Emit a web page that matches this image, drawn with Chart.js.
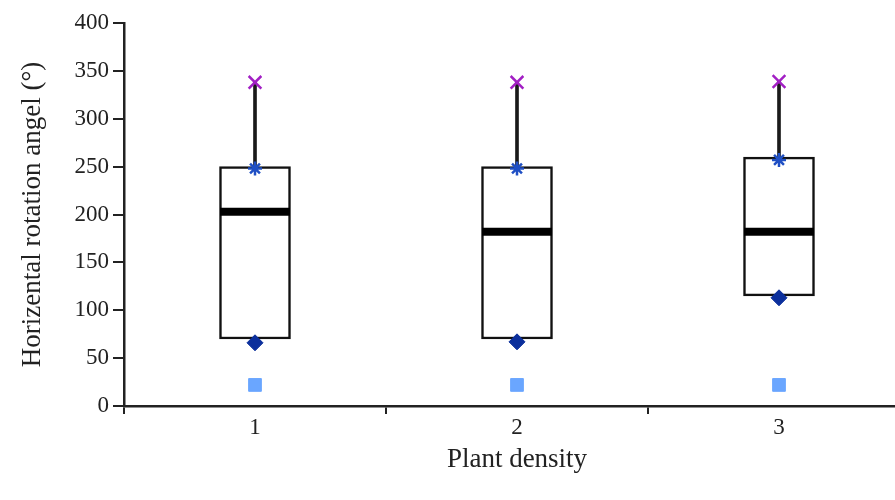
<!DOCTYPE html>
<html><head><meta charset="utf-8">
<script src="https://cdn.jsdelivr.net/npm/chart.js@4"></script>
<style>html,body{margin:0;padding:0;background:#fff;overflow:hidden;width:895px;height:500px}canvas{display:block}</style>
</head><body><canvas id="c" width="910" height="500"></canvas>
<script>
const categories = ['1', '2', '3'];
const maxValues = [338, 338, 339];
const q3Markers = [248, 248, 257];
const boxTop = [250, 250, 260];
const boxBottom = [70, 70, 115];
const medians = [203, 182, 182];
const q1Markers = [66, 67, 113];
const minValues = [22, 22, 22];
const yTicks = [0, 50, 100, 150, 200, 250, 300, 350, 400];

const serif = "'Liberation Serif','DejaVu Serif',serif";
new Chart(document.getElementById('c'), {
  data: {
    labels: categories,
    datasets: [
      { type: 'line', data: maxValues, showLine: false, pointStyle: 'crossRot', pointRadius: 9, borderWidth: 2.5, borderColor: '#a21fc4', backgroundColor: '#a21fc4', order: 1 },
      { type: 'line', data: q3Markers, showLine: false, pointStyle: 'star', pointRadius: 7, borderWidth: 2.5, borderColor: '#1f4fc4', backgroundColor: '#1f4fc4', order: 1 },
      { type: 'line', data: q1Markers, showLine: false, pointStyle: 'rectRot', pointRadius: 8, borderWidth: 1, borderColor: '#0b2f9c', backgroundColor: '#0b2f9c', order: 1 },
      { type: 'line', data: minValues, showLine: false, pointStyle: 'rect', pointRadius: 9, borderWidth: 1, borderColor: '#6aa6ff', backgroundColor: '#6aa6ff', order: 1 },
      { type: 'line', data: medians, showLine: false, pointStyle: 'line', pointRadius: 35, borderWidth: 8, borderColor: '#000', order: 2 },
      { type: 'bar', data: categories.map((c, i) => [boxBottom[i], boxTop[i]]), backgroundColor: '#fff', borderColor: '#111', borderWidth: 2.5, borderSkipped: false, barThickness: 71, grouped: false, order: 3 },
      { type: 'bar', data: categories.map((c, i) => [boxTop[i], maxValues[i]]), backgroundColor: '#1a1a1a', borderWidth: 0, barThickness: 3, grouped: false, order: 4 }
    ]
  },
  options: {
    responsive: false, animation: false,
    layout: { autoPadding: false, padding: { top: 23, left: 0, right: 0, bottom: 0 } },
    plugins: { legend: { display: false }, tooltip: { enabled: false } },
    scales: {
      x: {
        type: 'category', offset: true,
        grid: { offset: true, drawOnChartArea: false, drawTicks: true, tickLength: 8, color: '#222', lineWidth: 2 },
        border: { display: true, color: '#222', width: 2.5 },
        ticks: { color: '#222', font: { family: serif, size: 23 }, padding: 0 },
        title: { display: true, text: 'Plant density', color: '#222', font: { family: serif, size: 27 }, padding: { top: 0, bottom: 24 } },
        afterFit: s => { s.height = 94; }
      },
      y: {
        min: 0, max: 400,
        afterBuildTicks: s => { s.ticks = yTicks.map(v => ({ value: v })); },
        grid: { drawOnChartArea: false, drawTicks: true, tickLength: 11, color: '#222', lineWidth: 2 },
        border: { display: true, color: '#222', width: 2.5 },
        ticks: { color: '#222', font: { family: serif, size: 23 }, padding: 4 },
        title: { display: true, text: 'Horizental rotation angel (°)', color: '#222', font: { family: serif, size: 27 }, padding: { top: 17, bottom: 0 } },
        afterFit: s => { s.width = 124; }
      }
    }
  }
});
</script></body></html>
